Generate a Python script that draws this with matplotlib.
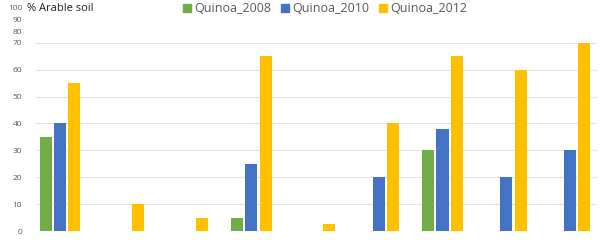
import numpy as np
import matplotlib.pyplot as plt
from matplotlib.lines import Line2D

# values (9 regions, labels cropped in the source)
groups = np.arange(9)
quinoa_2008 = [35, 0, 0, 5, 0, 0, 30, 0, 0]
quinoa_2010 = [40, 0, 0, 25, 0, 20, 38, 20, 30]
quinoa_2012 = [55, 10, 5, 65, 2.5, 40, 65, 60, 70]
series_names = ["Quinoa_2008", "Quinoa_2010", "Quinoa_2012"]
y_ticks = [0, 10, 20, 30, 40, 50, 60, 70, 80, 90, 100]

colors = ["#70AD47", "#4472C4", "#FFC000"]
text_grey = "#595959"

plt.rcParams['font.family'] = ['Open Sans', 'DejaVu Sans']


# the axis is squeezed above 70
def fwd(v):
    v = np.asarray(v, dtype=float)
    return np.where(v <= 70, v, 70 + (v - 70) * 0.433)


def inv(v):
    v = np.asarray(v, dtype=float)
    return np.where(v <= 70, v, 70 + (v - 70) / 0.433)


fig = plt.figure(figsize=(6, 2.4), dpi=100)
ax = fig.add_axes([0.06, 0.0375, 0.935, 0.93])
ax.set_yscale('function', functions=(fwd, inv))

w = 0.19
step = 0.225
for i, (vals, c) in enumerate(zip([quinoa_2008, quinoa_2010, quinoa_2012], colors)):
    ax.bar(groups + (i - 1) * step, vals, width=w, color=c, zorder=3)

ax.set_ylim(0, 100)
ax.set_xlim(-0.376, 8.424)
ax.set_yticks(y_ticks)
ax.set_yticklabels([str(t) for t in y_ticks], fontsize=6, color=text_grey)
ax.tick_params(axis='y', length=0, pad=10)
ax.set_xticks([])
ax.yaxis.grid(True, color="#E3E3E3", linewidth=0.8, zorder=0)
for t, gl in zip(y_ticks, ax.get_ygridlines()):
    if t > 70:
        gl.set_visible(False)
for s in ax.spines.values():
    s.set_visible(False)

fig.text(0.045, 0.965, "% Arable soil", fontsize=8, color="#222222", va='center', ha='left')

handles = [Line2D([], [], marker='s', linestyle='none', color=c, markersize=5.5) for c in colors]
fig.legend(handles, series_names, loc='center', bbox_to_anchor=(0.54, 0.963), ncol=3,
           frameon=False, fontsize=9, labelcolor=text_grey, handletextpad=0.1,
           columnspacing=0.6, handlelength=1.0)

plt.savefig("out.png", dpi=100)
